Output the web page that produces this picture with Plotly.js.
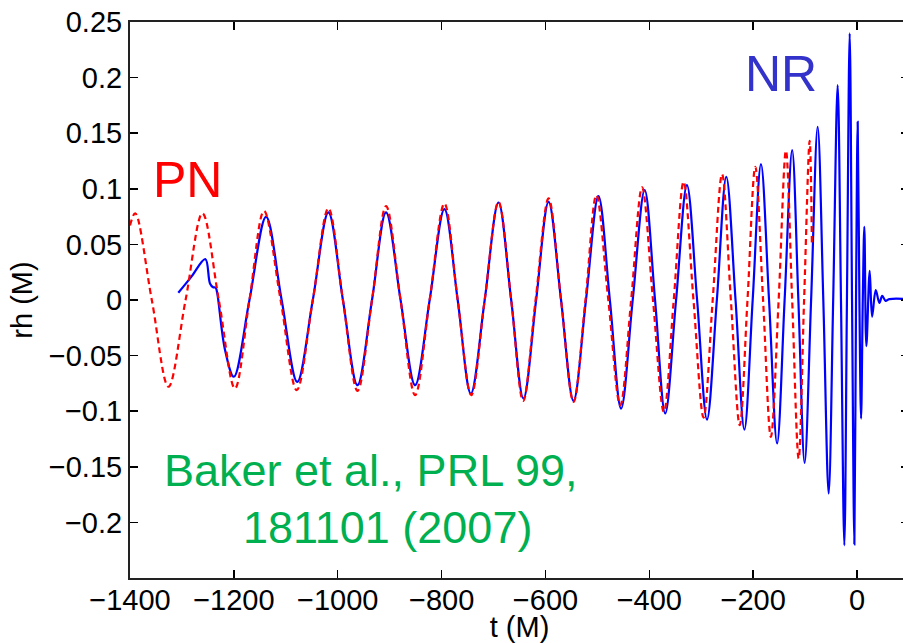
<!DOCTYPE html>
<html>
<head>
<meta charset="utf-8">
<script src="https://cdn.plot.ly/plotly-3.0.1.min.js"></script>
<style>
html, body { margin: 0; padding: 0; overflow: hidden; background: #fff; }
#chart { width: 909px; height: 643px; }
</style>
</head>
<body>
<div id="chart"></div>
<script>
// Numerical relativity waveform (solid blue): time t (M) and rh (M)
const nrT = [-1307, -1282, -1255, -1246, -1240, -1235, -1232, -1217, -1200, -1170,
  -1138, -1108, -1078, -1048, -1018, -990, -962, -934, -907, -879,
  -851, -823, -794.6, -769, -743.7, -717, -690.5, -666, -642.4, -618,
  -594, -570, -546, -522, -498, -476, -454.4, -432, -409, -389,
  -369.4, -348.5, -327.6, -308, -289, -270, -251.8, -234, -217, -201,
  -185, -169.5, -154, -139.5, -125, -113, -101, -88.5, -75.9, -65,
  -54.7, -46, -37.4, -31, -24.5, -19.5, -14.2, -9.7, -5.2, -2,
  1.2, 4.5, 7.7, 11, 14, 17.9, 24.3, 28.9, 36, 43,
  48.5, 55, 62, 100];
const nrH = [0.0065, 0.0208, 0.0368, 0.0149, 0.0115, 0.011, 0.006, -0.045, -0.069, 0,
  0.0748, 0, -0.0736, 0, 0.0788, 0, -0.0766, 0, 0.0788, 0,
  -0.0766, 0, 0.0817, 0, -0.0841, 0, 0.0877, 0, -0.0886, 0,
  0.0883, 0, -0.0907, 0, 0.0934, 0, -0.0976, 0, 0.0988, 0,
  -0.102, 0, 0.1033, 0, -0.1075, 0, 0.1108, 0, -0.1165, 0,
  0.1222, 0, -0.129, 0, 0.1348, 0, -0.1465, 0, 0.1558, 0,
  -0.174, 0, 0.1933, 0, -0.2206, 0, 0.2398, 0, -0.2197, 0,
  0.1603, 0, -0.1066, 0, 0.0658, -0.0415, 0.0262, -0.0151, 0.009, -0.0026,
  0.0037, -0.0008, 0.0008, 0.0008];

// Post-Newtonian waveform (dashed red)
const pnT = [-1400, -1390, -1358, -1326, -1293, -1260.5, -1229, -1198, -1170, -1142,
  -1110, -1079, -1048, -1018, -990, -962, -934, -907, -879, -851,
  -823, -794.6, -769, -743, -717, -690.5, -666, -643, -619, -594,
  -570, -546, -523, -502, -479, -456, -435, -414, -393, -372,
  -353, -334, -315, -295.6, -278, -260, -243, -226, -211, -196,
  -181, -166, -151, -137, -125, -112.5, -102, -91.3, -87];
const pnH = [0.067, 0.078, 0, -0.078, 0, 0.078, 0, -0.0796, 0, 0.080,
  0, -0.081, 0, 0.0824, 0, -0.0817, 0, 0.0844, 0, -0.0856,
  0, 0.0868, 0, -0.0856, 0, 0.0883, 0, -0.0907, 0, 0.0913,
  0, -0.0916, 0, 0.0943, 0, -0.0946, 0, 0.1013, 0, -0.1006,
  0, 0.1063, 0, -0.1057, 0, 0.1132, 0, -0.1126, 0, 0.1198,
  0, -0.1231, 0, 0.1342, 0, -0.1426, 0, 0.1432, 0.051];

const xTickVals = [-1400, -1200, -1000, -800, -600, -400, -200, 0];
const yTickVals = [-0.2, -0.15, -0.1, -0.05, 0, 0.05, 0.1, 0.15, 0.2, 0.25];
const yTickText = ['\u22120.2', '\u22120.15', '\u22120.1', '\u22120.05', '0', '0.05', '0.1', '0.15', '0.2', '0.25'];

const FONT = 'Liberation Sans, Arial, Helvetica, sans-serif';

const traces = [
  { x: nrT, y: nrH, type: 'scatter', mode: 'lines', name: 'NR',
    line: { color: '#0000ff', width: 2.2, shape: 'spline', smoothing: 1 } },
  { x: pnT, y: pnH, type: 'scatter', mode: 'lines', name: 'PN',
    line: { color: '#ff0000', width: 2.2, dash: '6px,4px', shape: 'spline', smoothing: 1 } }
];

const layout = {
  width: 909, height: 643,
  margin: { l: 130, r: 0, t: 22, b: 65 },
  paper_bgcolor: '#ffffff', plot_bgcolor: '#ffffff',
  showlegend: false,
  font: { family: FONT, size: 29, color: '#000' },
  xaxis: {
    range: [-1400, 100], tickvals: xTickVals,
    ticks: 'inside', ticklen: 8, tickwidth: 1.5, tickcolor: '#000',
    ticklabelstandoff: -5,
    showline: true, linewidth: 2, linecolor: '#222', mirror: 'ticks',
    showgrid: false, zeroline: false,
    tickfont: { family: FONT, size: 29, color: '#000' },
    title: { text: 't (M)', font: { family: FONT, size: 29, color: '#000' }, standoff: 2 }
  },
  yaxis: {
    range: [-0.25, 0.25], tickvals: yTickVals, ticktext: yTickText,
    ticks: 'inside', ticklen: 8, tickwidth: 1.5, tickcolor: '#000',
    showline: true, linewidth: 2, linecolor: '#222', mirror: 'ticks',
    showgrid: false, zeroline: false,
    tickfont: { family: FONT, size: 29, color: '#000' },
    title: { text: 'rh (M)', font: { family: FONT, size: 29, color: '#000' }, standoff: 8 }
  },
  annotations: [
    { x: -1289, y: 0.108, xref: 'x', yref: 'y', text: 'PN', showarrow: false,
      font: { family: FONT, size: 50, color: '#ff0000' }, xanchor: 'center', yanchor: 'middle' },
    { x: -146, y: 0.203, xref: 'x', yref: 'y', text: 'NR', showarrow: false,
      font: { family: FONT, size: 50, color: '#3333cc' }, xanchor: 'center', yanchor: 'middle' },
    { x: -936, y: -0.153, xref: 'x', yref: 'y', text: 'Baker et al., PRL 99,', showarrow: false,
      font: { family: FONT, size: 45, color: '#00b050' }, xanchor: 'center', yanchor: 'middle' },
    { x: -905, y: -0.205, xref: 'x', yref: 'y', text: '181101 (2007)', showarrow: false,
      font: { family: FONT, size: 45, color: '#00b050' }, xanchor: 'center', yanchor: 'middle' }
  ]
};

Plotly.newPlot('chart', traces, layout, { displayModeBar: false, staticPlot: true });
</script>
</body>
</html>
